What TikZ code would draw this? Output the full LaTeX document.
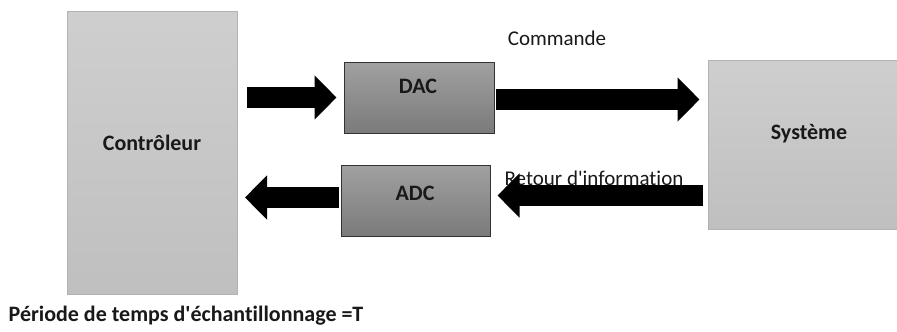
\documentclass[tikz,border=0pt]{standalone}
\usepackage{fontspec}
\setmainfont{Carlito}[Ligatures={NoCommon}]
\usetikzlibrary{arrows.meta,positioning,calc}

\tikzset{
  bigbox/.style={draw=black!30,line width=1pt,top color=black!19,bottom color=black!25,inner sep=0pt},
  convbox/.style={draw=black!80,line width=1pt,top color=black!37,bottom color=black!52,inner sep=0pt,
    minimum width=150pt,minimum height=71pt},
  fat/.style={line width=21pt,-{Triangle[length=22pt,width=43pt]}},
  txt/.style={font=\fontsize{21}{25}\selectfont,text=black!90},
  boldtxt/.style={font=\fontsize{22}{26}\selectfont\bfseries,text=black!90}
}

\begin{document}
\begin{tikzpicture}[x=1pt,y=-1pt,txt]
\useasboundingbox (0,0) rectangle (897,332);
\fill[white] (0,0) rectangle (897,332);
\clip (0,0) rectangle (897,332);
% blocks
\node[bigbox,minimum width=170pt,minimum height=283pt] (ctrl) at (152.5,152.5) {};
\node[boldtxt] (ctrltxt) at (152,143) {Contrôleur};
\node[convbox] (dac) at (419,97.5) {};
\node[boldtxt] (dactxt) at (418,86) {DAC};
\node[convbox,minimum width=149pt] (adc) at (415.5,200.5) {};
\node[boldtxt] (adctxt) at (415,193) {ADC};
\node[bigbox,minimum width=202pt,minimum height=169pt] (sys) at (809,144.5) {};
\node[boldtxt] (systxt) at (809,134) {Système};
% labels
\node (cmd) at (557,38) {Commande};
\node (ret) at (594,178) {Retour d\textquotesingle information};
\node[boldtxt] (per) at (186,316) {Période de temps d\textquotesingle échantillonnage =T};
% arrows
\draw[fat,shorten <=9pt,shorten >=7pt] (dac.west -| ctrl.east) -- (dac.west);
\draw[fat,shorten <=1pt,shorten >=8pt] ([yshift=-2pt]dac.east) -- ([yshift=-2pt]dac.east -| sys.west);
\draw[fat,shorten <=5pt,shorten >=7pt] ([yshift=5pt]sys.west |- adc.east) -- ([yshift=5pt]adc.east);
\draw[fat,shorten <=2pt,shorten >=7pt] ([yshift=3pt]adc.west) -- ([yshift=3pt]adc.west -| ctrl.east);
\end{tikzpicture}
\end{document}
